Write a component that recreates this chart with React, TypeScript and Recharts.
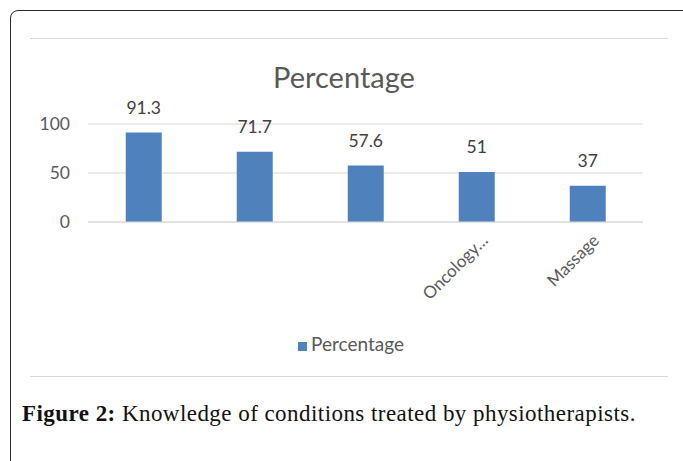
import React from "react";
import { BarChart, Bar, XAxis, YAxis, CartesianGrid, Legend, LabelList } from "recharts";

const categories = ["", " ", "  ", "Oncology…", "Massage"];
const percentage = [91.3, 71.7, 57.6, 51, 37];
const yTicks = [0, 50, 100];

const data = categories.map((name, i) => ({ name, Percentage: percentage[i] }));

const chartFont = "Lato, 'Open Sans', sans-serif";

export default function App() {
  return (
    <div style={{ position: "absolute", left: 0, top: 0, width: 683, height: 461, overflow: "hidden", background: "#fff" }}>
      <div
        style={{
          position: "absolute",
          left: 10,
          top: 10,
          width: 700,
          height: 500,
          border: "1.5px solid #2b2b2b",
          borderRadius: 8,
        }}
      />
      <div
        style={{
          position: "absolute",
          left: 30,
          top: 38,
          width: 638,
          height: 337,
          borderTop: "1px solid #d9d9d9",
          borderBottom: "1px solid #d9d9d9",
        }}
      >
        <div
          style={{
            position: "absolute",
            top: 20,
            left: 0,
            width: 628,
            textAlign: "center",
            fontFamily: chartFont,
            fontSize: 29,
            color: "#595959",
          }}
        >
          Percentage
        </div>
        <BarChart
          width={638}
          height={336}
          data={data}
          margin={{ top: 85, right: 25, bottom: 73, left: 0 }}
          barCategoryGap="34%"
        >
          <CartesianGrid vertical={false} stroke="#d9d9d9" />
          <YAxis
            domain={[0, 100]}
            ticks={yTicks}
            width={58}
            axisLine={false}
            tickLine={false}
            tickMargin={12}
            tick={{ fontSize: 17.5, fill: "#595959", fontFamily: chartFont }}
          />
          <XAxis
            dataKey="name"
            height={80}
            interval={0}
            axisLine={{ stroke: "#d9d9d9" }}
            tickLine={false}
            angle={-45}
            textAnchor="end"
            dx={4}
            dy={3}
            tick={{ fontSize: 17, fill: "#595959", fontFamily: chartFont }}
          />
          <Legend
            verticalAlign="middle"
            align="center"
            iconType="square"
            iconSize={9}
            wrapperStyle={{ top: 293, left: 6, width: 640, fontFamily: chartFont, fontSize: 19 }}
            formatter={(v) => <span style={{ color: "#595959" }}>{v}</span>}
          />
          <Bar dataKey="Percentage" fill="#4f81bd" isAnimationActive={false}>
            <LabelList
              dataKey="Percentage"
              position="top"
              offset={19}
              style={{ fontSize: 17.5, fill: "#404040", fontFamily: chartFont }}
            />
          </Bar>
        </BarChart>
      </div>
      <div
        style={{
          position: "absolute",
          left: 22,
          top: 401,
          fontFamily: "'Liberation Serif', serif",
          fontSize: 23,
          letterSpacing: 0.45,
          color: "#111",
          whiteSpace: "nowrap",
        }}
      >
        <b>Figure 2:</b> Knowledge of conditions treated by physiotherapists.
      </div>
    </div>
  );
}
